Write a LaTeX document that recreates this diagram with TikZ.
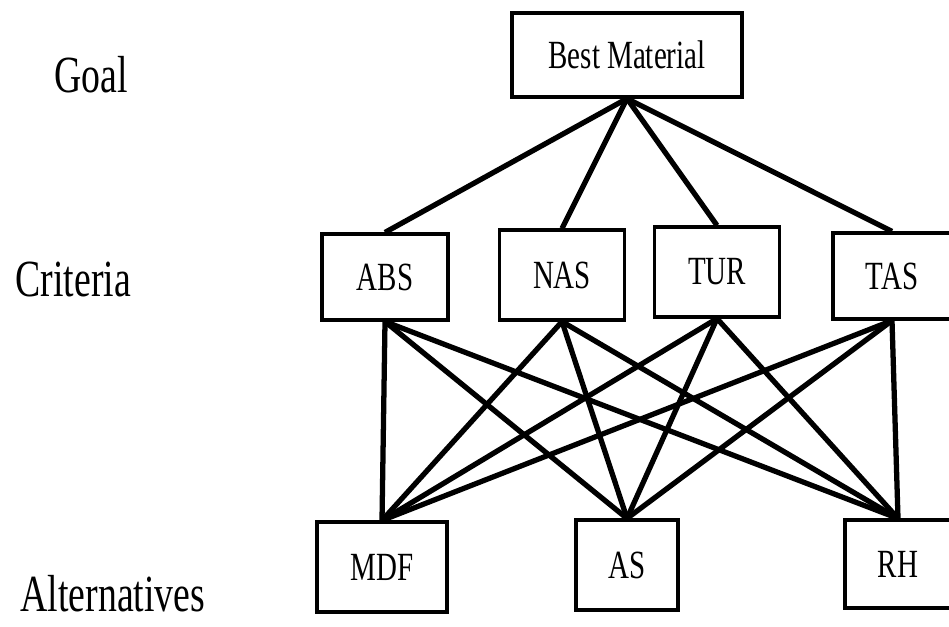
\documentclass[tikz,border=0pt]{standalone}
\usepackage{fontspec}
\setmainfont{Liberation Serif}
\usepackage{graphicx}
\newcommand{\talltext}[1]{\scalebox{1}[1.38]{#1}}

\begin{document}
\begin{tikzpicture}[x=0.02cm,y=-0.02cm,line width=3pt,
  box/.style={draw,line width=1.8pt,inner sep=0pt,minimum height=1.76cm,
    font=\fontsize{16.5}{18}\selectfont},
  level/.style={anchor=base west,inner sep=0pt,font=\fontsize{21.5}{24}\selectfont}]
  \useasboundingbox (0,0) rectangle (949,626);

  \node[level] (goal) at (52,92) {\talltext{Goal}};
  \node[level] (crit) at (13,296) {\talltext{Criteria}};
  \node[level] (alts) at (18,611) {\talltext{Alternatives}};

  \node[box,minimum width=4.6cm,minimum height=1.68cm] (best) at (627,55) {\talltext{Best Material}};

  \node[box,minimum width=2.52cm,minimum height=1.72cm] (abs) at (385,277) {\talltext{ABS}};
  \node[box,minimum width=2.5cm,minimum height=1.8cm] (nas) at (562,275) {\talltext{NAS}};
  \node[box,minimum width=2.5cm,minimum height=1.8cm] (tur) at (717,272) {\talltext{TUR}};
  \node[box,minimum width=2.36cm,minimum height=1.72cm] (tas) at (892,276) {\talltext{TAS}};

  \node[box,minimum width=2.6cm,minimum height=1.8cm] (mdf) at (382,567) {\talltext{MDF}};
  \node[box,minimum width=2.04cm,minimum height=1.8cm] (as) at (627,565) {\talltext{AS}};
  \node[box,minimum width=2.12cm,minimum height=1.76cm] (rh) at (898,564) {\talltext{RH}};

  \foreach \c in {abs,nas,tur,tas}
    \draw (best.south) -- (\c.north);
  \foreach \c in {abs,nas,tur,tas}
    \foreach \a in {mdf,as,rh}
      \draw (\c.south) -- (\a.north);
\end{tikzpicture}
\end{document}
